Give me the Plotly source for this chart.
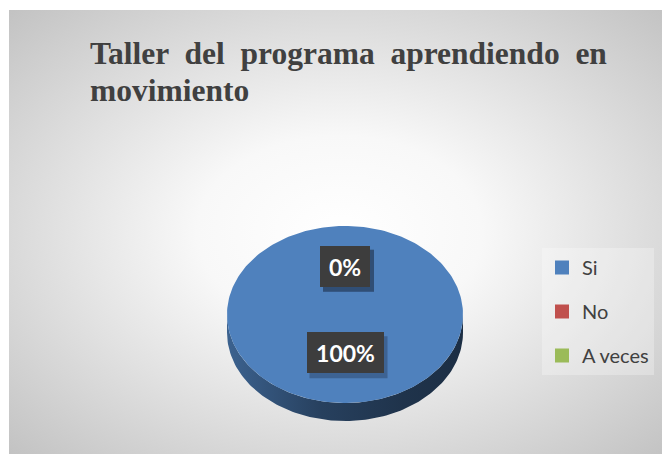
import base64
import numpy as np
import plotly.graph_objects as go

# ---------------- data ----------------
categories = ["Si", "No", "A veces"]
values = [100, 0, 0]
colors = ["#4f81bd", "#c0504d", "#9bbb59"]
title_line1 = "Taller del programa aprendiendo en"
title_line2 = "movimiento"

# ---------------- layout constants ----------------
W, H = 670, 454
OFF = 8  # page body margin of the html file
CX, CY, RX, RY, DEPTH = 345, 314.5, 118, 88.5, 18
LABEL_F, LABEL_DY = 0.49, -5


def shade(hex_color, k):
    h = hex_color.lstrip("#")
    r, g, b = (int(h[i:i + 2], 16) for i in (0, 2, 4))
    return "#%02x%02x%02x" % (int(r * k), int(g * k), int(b * k))


def pt(theta, dy=0.0):
    return CX + RX * np.sin(theta), CY - RY * np.cos(theta) + dy


total = float(sum(values))
fracs = [v / total for v in values]
starts = 2 * np.pi * np.concatenate([[0.0], np.cumsum(fracs)[:-1]])

fig = go.Figure()

# background radial gradient (chart area)
svg = (
    '<svg xmlns="http://www.w3.org/2000/svg" width="661" height="444">'
    '<defs><radialGradient id="g" cx="0.5" cy="0.5" r="0.72">'
    '<stop offset="0" stop-color="#ffffff"/>'
    '<stop offset="0.3" stop-color="#f8f8f8"/>'
    '<stop offset="1" stop-color="#c1c1c1"/>'
    '</radialGradient></defs>'
    '<rect width="661" height="444" fill="url(#g)"/></svg>'
)
src = "data:image/svg+xml;base64," + base64.b64encode(svg.encode()).decode()

# pie shadow halo
shapes = [
    dict(type="circle", xref="x", yref="y", x0=CX - RX - 7, x1=CX + RX + 7,
         y0=CY - RY + 4, y1=CY + RY + DEPTH + 7,
         fillcolor="rgba(0,0,0,0.035)", line=dict(width=0), layer="below"),
    dict(type="circle", xref="x", yref="y", x0=CX - RX - 3, x1=CX + RX + 3,
         y0=CY - RY + 2, y1=CY + RY + DEPTH + 3,
         fillcolor="rgba(0,0,0,0.05)", line=dict(width=0), layer="below"),
]

# side walls (only front/lower half visible)
for frac, a0, col in zip(fracs, starts, colors):
    if frac <= 0:
        continue
    a1 = a0 + frac * 2 * np.pi
    lo, hi = max(a0, np.pi / 2), min(a1, 3 * np.pi / 2)
    if hi <= lo:
        continue
    t = np.linspace(lo, hi, 120)
    xt, yt = pt(t)
    xb, yb = pt(t[::-1], DEPTH)
    fig.add_trace(go.Scatter(
        x=np.concatenate([xt, xb]), y=np.concatenate([yt, yb]),
        fill="toself", mode="lines", line=dict(width=0),
        fillgradient=dict(type="horizontal", colorscale=[
            [0, shade(col, 0.76)], [0.4, shade(col, 0.5)],
            [0.75, shade(col, 0.4)], [1, shade(col, 0.36)]]),
        showlegend=False, hoverinfo="skip"))

# top faces
for frac, a0, col, name in zip(fracs, starts, colors, categories):
    if frac <= 0:
        continue
    a1 = a0 + frac * 2 * np.pi
    t = np.linspace(a0, a1, 240)
    xs, ys = pt(t)
    fig.add_trace(go.Scatter(
        x=np.concatenate([[CX], xs, [CX]]), y=np.concatenate([[CY], ys, [CY]]),
        fill="toself", mode="lines", line=dict(width=0), fillcolor=col,
        showlegend=False, name=name, hoverinfo="skip"))

# legend entries
for name, col in zip(categories, colors):
    fig.add_trace(go.Scatter(
        x=[None], y=[None], mode="markers", name=name, legendgroup=name,
        marker=dict(symbol="square", size=14, color=col)))

# data labels
annotations = []
for frac, a0 in zip(fracs, starts):
    mid = a0 + frac * np.pi
    lx = CX + LABEL_F * RX * np.sin(mid)
    ly = CY + LABEL_DY - LABEL_F * RY * np.cos(mid)
    text = f"{round(frac * 100)}%"
    bw, bh = 23 + 13.5 * len(text), 41
    shapes.append(dict(type="rect", xref="x", yref="y",
                       x0=lx - bw / 2 + 3, x1=lx + bw / 2 + 4,
                       y0=ly - bh / 2 + 4, y1=ly + bh / 2 + 5,
                       fillcolor="rgba(20,30,50,0.30)", line=dict(width=0),
                       layer="above"))
    annotations.append(dict(
        x=lx, y=ly, xref="x", yref="y", text=f"<b>{text}</b>", showarrow=False,
        font=dict(family="Lato", size=23, color="#ffffff"),
        bgcolor="#3d3d3d", borderpad=4, borderwidth=0,
        width=bw - 8, height=bh - 8, align="center", valign="middle"))

# title
sp = " \u00a0"
annotations.append(dict(
    x=88, y=53, xref="x", yref="y", xanchor="left", yanchor="middle",
    text="<b>" + sp.join(title_line1.split(" ")) + "</b>", showarrow=False,
    font=dict(family="Liberation Serif", size=31.5, color="#404040")))
annotations.append(dict(
    x=88, y=90, xref="x", yref="y", xanchor="left", yanchor="middle",
    text="<b>" + title_line2 + "</b>", showarrow=False,
    font=dict(family="Liberation Serif", size=31.5, color="#404040")))

# chart border
shapes.append(dict(type="rect", xref="x", yref="y", x0=9.5, x1=W + 2,
                   y0=10.5, y1=H + 2, line=dict(color="#bdbdbd", width=1),
                   fillcolor="rgba(0,0,0,0)", layer="below"))

fig.update_layout(
    width=W, height=H, margin=dict(l=0, r=0, t=0, b=0),
    paper_bgcolor="#ffffff", plot_bgcolor="rgba(0,0,0,0)",
    xaxis=dict(range=[OFF, W + OFF], visible=False, fixedrange=True),
    yaxis=dict(range=[H + OFF, OFF], visible=False, fixedrange=True),
    images=[dict(source=src, xref="x", yref="y", x=9, y=10,
                 sizex=W - 9, sizey=H - 10, sizing="stretch",
                 xanchor="left", yanchor="top", layer="below")],
    shapes=shapes, annotations=annotations,
    legend=dict(x=(542 - OFF) / W, y=1 - (248 - OFF) / H,
                xanchor="left", yanchor="top",
                bgcolor="rgba(255,255,255,0.28)", tracegroupgap=15,
                font=dict(family="Lato", size=20, color="#404040"),
                itemclick=False, itemdoubleclick=False),
    showlegend=True,
)

fig.write_html("out.html")
